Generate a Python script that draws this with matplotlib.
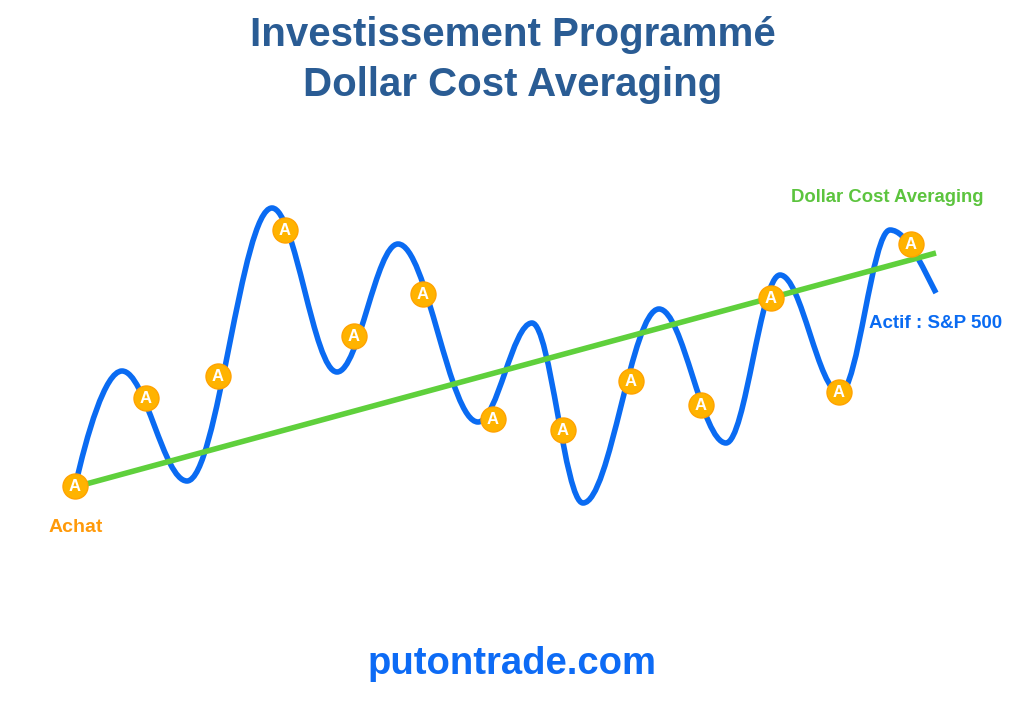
import matplotlib.pyplot as plt
from matplotlib.path import Path
from matplotlib.patches import PathPatch

# turning points of the S&P 500 curve (x, height)
curve_x = [75, 122, 187, 272, 337, 398, 478, 532, 583, 659, 726, 780, 840, 890, 936]
curve_y = [237, 353, 243, 516, 352, 480, 302, 401, 221, 415, 281, 449, 331, 494, 431]

# monthly buys ("A" points)
buy_x = [75, 146, 218, 285, 354, 423, 493, 563, 631, 701, 771, 839, 911]
buy_y = [238, 326, 348, 494, 388, 430, 305, 294, 343, 319, 426, 332, 480]

# dollar cost averaging trend
dca_x = [75, 936]
dca_y = [237, 471]

BLUE = '#0A6BF2'
GREEN = '#5FD03C'
GOLD = '#FFB300'

plt.rcParams['font.family'] = ['Liberation Sans', 'DejaVu Sans']

fig = plt.figure(figsize=(10.24, 7.24), dpi=100)
ax = fig.add_axes([0, 0, 1, 1])
ax.set_xlim(0, 1024)
ax.set_ylim(0, 724)
ax.axis('off')

# smooth curve through the turning points (cubic bezier, flat at extrema)
k = 0.36
verts = [(curve_x[0], curve_y[0])]
codes = [Path.MOVETO]
n = len(curve_x)
for i in range(n - 1):
    x0, y0 = curve_x[i], curve_y[i]
    x1, y1 = curve_x[i + 1], curve_y[i + 1]
    dx, dy = x1 - x0, y1 - y0
    if i == 0:
        c1 = (x0 + 0.25 * dx, y0 + 0.45 * dy)
    else:
        c1 = (x0 + k * dx, y0)
    if i == n - 2:
        c2 = (x1 - 0.3 * dx, y1 - 0.3 * dy * 1.4)
    else:
        c2 = (x1 - k * dx, y1)
    verts += [c1, c2, (x1, y1)]
    codes += [Path.CURVE4] * 3
ax.add_patch(PathPatch(Path(verts, codes), facecolor='none', edgecolor=BLUE,
                       lw=4, capstyle='butt', joinstyle='round', zorder=2))

ax.plot(dca_x, dca_y, color=GREEN, lw=4, solid_capstyle='butt', zorder=3)

ax.plot(buy_x, buy_y, 'o', ms=18, mfc=GOLD, mec='#FFA200', mew=1, zorder=4)
for x, y in zip(buy_x, buy_y):
    ax.text(x, y - 0.5, 'A', color='white', fontsize=12, fontweight='bold',
            ha='center', va='center', zorder=5)

ax.text(513, 689, 'Investissement Programmé', color='#2A5C94', fontsize=29,
        fontweight='bold', ha='center', va='center')
ax.text(513, 639, 'Dollar Cost Averaging', color='#2A5C94', fontsize=29,
        fontweight='bold', ha='center', va='center')

ax.text(49, 197, 'Achat', color='#FF9A0A', fontsize=14, fontweight='bold',
        ha='left', va='center')
ax.text(791, 527, 'Dollar Cost Averaging', color='#5CC43E', fontsize=13.3,
        fontweight='bold', ha='left', va='center')
ax.text(869, 401, 'Actif : S&P 500', color=BLUE, fontsize=13.5,
        fontweight='bold', ha='left', va='center')

ax.text(512, 60, 'putontrade.com', color='#0D6BF5', fontsize=27.5,
        fontweight='bold', ha='center', va='center')

fig.savefig('out.png', dpi=100, facecolor='white')
